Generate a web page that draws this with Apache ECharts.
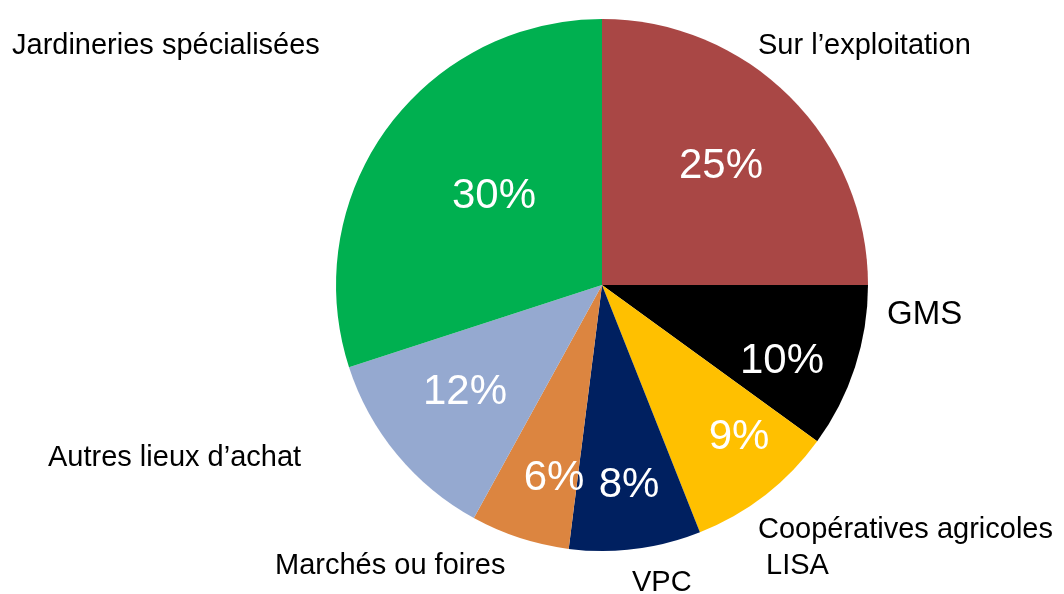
<!DOCTYPE html>
<html><head><meta charset="utf-8">
<script src="https://cdn.jsdelivr.net/npm/echarts@6/dist/echarts.min.js"></script>
<style>html,body{margin:0;padding:0;background:#fff}#c{width:1064px;height:594px}</style>
</head><body><div id="c"></div>
<script>
// ---- data ----
const categories = ["Sur l’exploitation", "GMS", "Coopératives agricoles\n LISA", "VPC", "Marchés ou foires", "Autres lieux d’achat", "Jardineries spécialisées"];
const shares = [25, 10, 9, 8, 6, 12, 30];

// ---- style / layout ----
const sliceColors = ["#A94745", "#000000", "#FFC000", "#002060", "#DC8540", "#95A9D0", "#00B050"];
const nameLabelXY = [[758, 46], [887, 315], [758, 548], [632, 583], [275, 566], [48, 458], [12, 46]];
const nameFontSizes = [29, 33, 29, 29, 29, 29, 29];
const pctLabelXY = [[721, 166], [782, 361], [739, 437], [629, 485], [554, 478], [465, 392], [494, 196]];

const FONT = '"Liberation Sans", Arial, sans-serif';
const center = [602, 285];
const radius = 266;

const pieData = categories.map((n, i) => ({ name: n, value: shares[i], itemStyle: { color: sliceColors[i] } }));
const nameData = categories.map((n, i) => ({
  name: n, value: shares[i],
  label: { fontSize: nameFontSizes[i], lineHeight: 36 }
}));

const chart = echarts.init(document.getElementById('c'), null, { renderer: 'canvas' });
chart.setOption({
  animation: false,
  backgroundColor: '#ffffff',
  series: [
    {
      type: 'pie',
      center: center,
      radius: radius,
      startAngle: 90,
      clockwise: true,
      avoidLabelOverlap: false,
      silent: true,
      data: pieData,
      itemStyle: { borderWidth: 0 },
      label: {
        show: true,
        position: 'inside',
        formatter: '{c}%',
        color: '#ffffff',
        fontFamily: FONT,
        fontSize: 42,
        fontWeight: 'normal'
      },
      labelLine: { show: false },
      labelLayout: function (p) {
        const xy = pctLabelXY[p.dataIndex];
        return { x: xy[0], y: xy[1], align: 'center', verticalAlign: 'middle' };
      }
    },
    {
      type: 'pie',
      center: center,
      radius: radius,
      startAngle: 90,
      clockwise: true,
      avoidLabelOverlap: false,
      silent: true,
      data: nameData,
      itemStyle: { color: 'rgba(0,0,0,0)', borderWidth: 0 },
      label: {
        show: true,
        position: 'outside',
        formatter: '{b}',
        color: '#000000',
        fontFamily: FONT,
        fontSize: 29,
        align: 'left'
      },
      labelLine: { show: false },
      labelLayout: function (p) {
        const xy = nameLabelXY[p.dataIndex];
        return { x: xy[0], y: xy[1], align: 'left', verticalAlign: 'middle' };
      }
    }
  ]
});
</script>
</body></html>
